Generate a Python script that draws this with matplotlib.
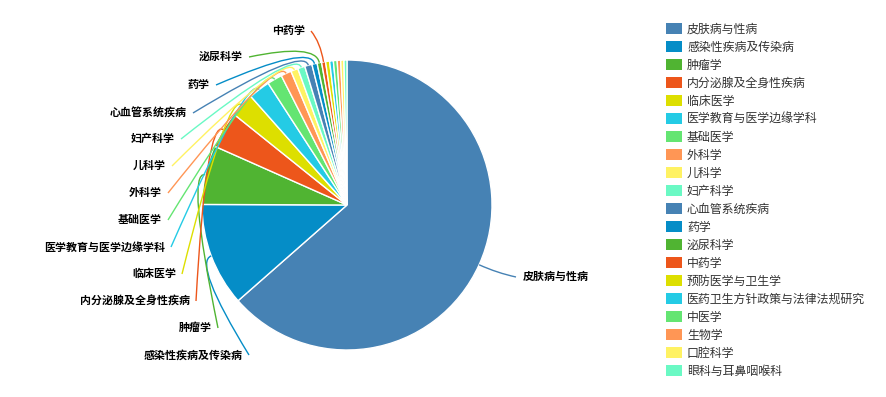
import matplotlib
matplotlib.use("Agg")
import matplotlib.pyplot as plt
from matplotlib.patches import Rectangle, PathPatch
from matplotlib.path import Path
import numpy as np

plt.rcParams["font.family"] = ["Noto Sans CJK SC", "DejaVu Sans"]

# Subject categories and record counts
categories = [
    "皮肤病与性病", "感染性疾病及传染病", "肿瘤学", "内分泌腺及全身性疾病",
    "临床医学", "医学教育与医学边缘学科", "基础医学", "外科学", "儿科学",
    "妇产科学", "心血管系统疾病", "药学", "泌尿科学", "中药学",
    "预防医学与卫生学", "医药卫生方针政策与法律法规研究", "中医学",
    "生物学", "口腔科学", "眼科与耳鼻咽喉科",
]
counts = [2285, 415, 237, 148, 97, 86, 60, 42, 29, 29,
          29, 21, 18, 16, 16, 15, 15, 14, 13, 12]

palette = ["#4682b4", "#058dc7", "#50b432", "#ed561b", "#dddf00",
           "#24cbe5", "#64e572", "#ff9655", "#fff263", "#6af9c4"]

# Label layout (pixel coords, y measured from the top): anchor x, centre y
label_layout = {
    "皮肤病与性病": (523, 277),
    "感染性疾病及传染病": (243, 355),
    "肿瘤学": (212, 328),
    "内分泌腺及全身性疾病": (190, 301),
    "临床医学": (176, 274),
    "医学教育与医学边缘学科": (165, 247),
    "基础医学": (162, 220),
    "外科学": (162, 193),
    "儿科学": (166, 166),
    "妇产科学": (175, 139),
    "心血管系统疾病": (187, 113),
    "药学": (210, 85),
    "泌尿科学": (243, 57),
    "中药学": (305, 31),
}

W, H = 887, 397
fig = plt.figure(figsize=(W / 100, H / 100), dpi=100)
ax = fig.add_axes([0, 0, 1, 1])

cx, cy = 347, H - 205
R = 145
colors = [palette[i % len(palette)] for i in range(len(categories))]

wedges, _ = ax.pie(counts, colors=colors, startangle=90, counterclock=False,
                   center=(cx, cy), radius=R,
                   wedgeprops=dict(edgecolor="white", linewidth=1))
ax.set_xlim(0, W)
ax.set_ylim(0, H)
ax.set_aspect("equal")
ax.axis("off")

# Leader lines and labels
for w, name, col in zip(wedges, categories, colors):
    if name not in label_layout:
        continue
    mid = np.deg2rad((w.theta1 + w.theta2) / 2)
    ux, uy = np.cos(mid), np.sin(mid)
    lx, ly = label_layout[name]
    ly = H - ly
    right = ux > 0
    start = (cx + R * ux, cy + R * uy)
    ctrl = (cx + (R + 20) * ux, cy + (R + 20) * uy)
    end = (lx - 7, ly) if right else (lx + 6, ly)
    path = Path([start, ctrl, end], [Path.MOVETO, Path.CURVE3, Path.CURVE3])
    ax.add_patch(PathPatch(path, facecolor="none", edgecolor=col, lw=1))
    ax.text(lx, ly, name, ha="left" if right else "right", va="center",
            fontsize=7.9, fontweight="bold", color="#000000")

# Legend
for i, (name, col) in enumerate(zip(categories, colors)):
    y = H - (28.8 + i * 18.0)
    ax.add_patch(Rectangle((666, y - 5.5), 16, 11, facecolor=col, edgecolor="none"))
    ax.text(687, y - 0.5, name, ha="left", va="center", fontsize=8.6, color="#333333")

fig.savefig("out.png", dpi=100)
